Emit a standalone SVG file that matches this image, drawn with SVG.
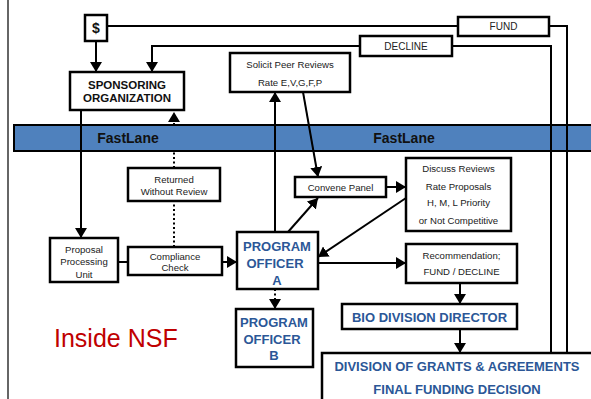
<svg xmlns="http://www.w3.org/2000/svg" width="591" height="399" viewBox="0 0 591 399">
<style>
.box{fill:#fff;stroke:#000;stroke-width:2.5}
.t{font-family:"Liberation Sans",Arial,sans-serif;font-size:9.6px;fill:#222;text-anchor:middle}
.tb{font-family:"Liberation Sans",Arial,sans-serif;font-size:11.5px;font-weight:bold;fill:#111;text-anchor:middle}
.bl{font-family:"Liberation Sans",Arial,sans-serif;font-size:13px;font-weight:bold;fill:#2B5797;text-anchor:middle}
.fl{font-family:"Liberation Sans",Arial,sans-serif;font-size:14px;font-weight:bold;fill:#111;text-anchor:middle}
.c{fill:none;stroke:#000;stroke-width:2}
.a{marker-end:url(#ah)}
.d{stroke-dasharray:2 2.5}
</style>
<defs>
<marker id="ah" viewBox="0 0 10 12" refX="10" refY="6" markerWidth="10" markerHeight="12" markerUnits="userSpaceOnUse" orient="auto">
<path d="M0,0 L10,6 L0,12 Z" fill="#000"/>
</marker>
</defs>
<rect width="591" height="399" fill="#fff"/>
<line x1="8" y1="0" x2="8" y2="399" stroke="#333" stroke-width="1.5"/>
<g id="fastlane">
<rect x="14" y="125" width="578" height="26" fill="#4F81BD" stroke="#000" stroke-width="2"/>
<text class="fl" x="128" y="143">FastLane</text>
<text class="fl" x="404" y="143">FastLane</text>
</g>
<g id="connectors">
<path class="c a" d="M96,41 V72"/>
<path class="c a" d="M360,46 H152 V72"/>
<path class="c" d="M107,26 H458"/>
<path class="c" d="M549,26 H567 V354"/>
<path class="c" d="M452,46 H551 V354"/>
<path class="c a" d="M81,110 V238"/>
<path class="c" d="M118,262 H128"/>
<path class="c a" d="M222,262 H237"/>
<path class="c d" d="M174,247 V201"/>
<path class="c d a" d="M174,168 V151 M174,125 V112"/>
<path class="c a" d="M275,232 V92"/>
<path class="c a" d="M303,92 L318,177"/>
<path class="c a" d="M386,187 H406"/>
<path class="c a" d="M406,198 L318,257"/>
<path class="c a" d="M288,232 L318,198"/>
<path class="c a" d="M318,263 H406"/>
<path class="c d a" d="M275,289 V309"/>
<path class="c a" d="M460,283 V304"/>
<path class="c a" d="M460,329 V353"/>
</g>
<g id="dollar"><rect class="box" x="85" y="15" width="22" height="26"/><text class="tb" x="96" y="33" style="font-size:14px">$</text></g>
<g id="fund"><rect class="box" x="458" y="17" width="91" height="19"/><text class="t" x="503.5" y="30" style="font-size:10px">FUND</text></g>
<g id="decline"><rect class="box" x="360" y="36" width="92" height="20"/><text class="t" x="406" y="49.5" style="font-size:10px">DECLINE</text></g>
<g id="sponsoring"><rect class="box" x="70" y="72" width="114" height="38"/><text class="tb" x="127" y="89">SPONSORING</text><text class="tb" x="127" y="102">ORGANIZATION</text></g>
<g id="solicit"><rect class="box" x="230" y="53" width="120" height="39"/><text class="t" x="290" y="68">Solicit Peer Reviews</text><text class="t" x="290" y="86">Rate E,V,G,F,P</text></g>
<g id="returned"><rect class="box" x="128" y="168" width="92" height="33"/><text class="t" x="174" y="183">Returned</text><text class="t" x="174" y="195">Without Review</text></g>
<g id="convene"><rect class="box" x="295" y="177" width="91" height="20"/><text class="t" x="340.5" y="190.5">Convene Panel</text></g>
<g id="discuss"><rect class="box" x="406" y="158" width="105" height="73"/><text class="t" x="458.5" y="172">Discuss Reviews</text><text class="t" x="458.5" y="190">Rate Proposals</text><text class="t" x="458.5" y="206">H, M, L Priority</text><text class="t" x="458.5" y="224">or Not Competitive</text></g>
<g id="ppu"><rect class="box" x="50" y="238" width="68" height="44"/><text class="t" x="84" y="253">Proposal</text><text class="t" x="84" y="265">Processing</text><text class="t" x="84" y="278">Unit</text></g>
<g id="compliance"><rect class="box" x="128" y="247" width="94" height="28"/><text class="t" x="175" y="260">Compliance</text><text class="t" x="175" y="271">Check</text></g>
<g id="poa"><rect class="box" x="237" y="232" width="81" height="57"/><text class="bl" x="277" y="251">PROGRAM</text><text class="bl" x="275" y="268">OFFICER</text><text class="bl" x="277" y="285">A</text></g>
<g id="pob"><rect class="box" x="236" y="309" width="77" height="58"/><text class="bl" x="274" y="327">PROGRAM</text><text class="bl" x="272" y="344">OFFICER</text><text class="bl" x="274" y="360">B</text></g>
<g id="recommendation"><rect class="box" x="406" y="244" width="111" height="39"/><text class="t" x="461.5" y="259">Recommendation;</text><text class="t" x="461.5" y="275">FUND / DECLINE</text></g>
<g id="bio"><rect class="box" x="342" y="304" width="175" height="25"/><text class="bl" x="429.5" y="321.5">BIO DIVISION DIRECTOR</text></g>
<g id="dga"><rect class="box" x="322" y="353" width="280" height="60"/><text class="bl" x="457" y="371">DIVISION OF GRANTS &amp; AGREEMENTS</text><text class="bl" x="457" y="394">FINAL FUNDING DECISION</text></g>
<text x="54" y="347" font-family="'Liberation Sans',Arial,sans-serif" font-size="25" fill="#C00000">Inside NSF</text>
</svg>
